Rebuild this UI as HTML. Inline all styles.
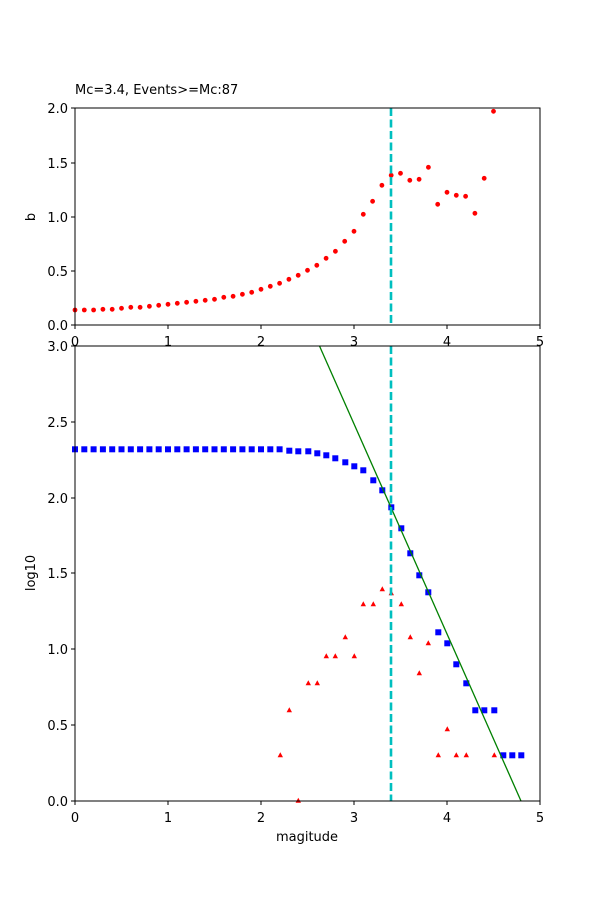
<!DOCTYPE html>
<html><head><meta charset="utf-8"><style>
html,body{margin:0;padding:0;background:#fff;}
svg{display:block;font-family:"DejaVu Sans","Liberation Sans",sans-serif;}
</style></head><body>
<svg id="s" width="600" height="900" viewBox="0 0 600 900" xmlns="http://www.w3.org/2000/svg">
<rect width="600" height="900" fill="#fff"/>
<g id="pts"></g>
<line x1="319.5" y1="346" x2="521" y2="801" stroke="#008000" stroke-width="1.3"/>
<line x1="391" y1="108" x2="391" y2="325" stroke="#00bfbf" stroke-width="2.6" stroke-dasharray="8,3.5"/>
<line x1="391" y1="346" x2="391" y2="801" stroke="#00bfbf" stroke-width="2.6" stroke-dasharray="8,3.5"/>
<rect x="75" y="108" width="465" height="217" fill="none" stroke="#000" stroke-width="1"/>
<rect x="75" y="346" width="465" height="455" fill="none" stroke="#000" stroke-width="1"/>
<g stroke="#000" stroke-width="1">
<line x1="75" y1="325" x2="75" y2="329"/><line x1="168" y1="325" x2="168" y2="329"/><line x1="261" y1="325" x2="261" y2="329"/><line x1="354" y1="325" x2="354" y2="329"/><line x1="447" y1="325" x2="447" y2="329"/><line x1="540" y1="325" x2="540" y2="329"/>
<line x1="71" y1="325" x2="75" y2="325"/><line x1="71" y1="271" x2="75" y2="271"/><line x1="71" y1="217" x2="75" y2="217"/><line x1="71" y1="163" x2="75" y2="163"/><line x1="71" y1="108" x2="75" y2="108"/>
<line x1="75" y1="801" x2="75" y2="805"/><line x1="168" y1="801" x2="168" y2="805"/><line x1="261" y1="801" x2="261" y2="805"/><line x1="354" y1="801" x2="354" y2="805"/><line x1="447" y1="801" x2="447" y2="805"/><line x1="540" y1="801" x2="540" y2="805"/>
<line x1="71" y1="801" x2="75" y2="801"/><line x1="71" y1="725" x2="75" y2="725"/><line x1="71" y1="649" x2="75" y2="649"/><line x1="71" y1="573" x2="75" y2="573"/><line x1="71" y1="498" x2="75" y2="498"/><line x1="71" y1="422" x2="75" y2="422"/><line x1="71" y1="346" x2="75" y2="346"/>
</g>
<g font-size="13" fill="#000">
<text x="75" y="94">Mc=3.4, Events&gt;=Mc:87</text>
<g text-anchor="middle">
<text x="75" y="346">0</text><text x="168" y="346">1</text><text x="261" y="346">2</text><text x="354" y="346">3</text><text x="447" y="346">4</text><text x="540" y="346">5</text>
<text x="75" y="822">0</text><text x="168" y="822">1</text><text x="261" y="822">2</text><text x="354" y="822">3</text><text x="447" y="822">4</text><text x="540" y="822">5</text>
<text x="307" y="841">magitude</text>
</g>
<g text-anchor="end">
<text x="68" y="330">0.0</text><text x="68" y="276">0.5</text><text x="68" y="222">1.0</text><text x="68" y="168">1.5</text><text x="68" y="113">2.0</text>
<text x="68" y="806">0.0</text><text x="68" y="730">0.5</text><text x="68" y="654">1.0</text><text x="68" y="578">1.5</text><text x="68" y="503">2.0</text><text x="68" y="427">2.5</text><text x="68" y="351">3.0</text>
</g>
<text transform="translate(35,217) rotate(-90)" text-anchor="middle">b</text>
<text transform="translate(35,573) rotate(-90)" text-anchor="middle">log10</text>
</g>
</svg>
<script>
(function(){
var NS="http://www.w3.org/2000/svg";
var g=document.getElementById('pts');
function el(n,a){var e=document.createElementNS(NS,n);for(var k in a)e.setAttribute(k,a[k]);g.appendChild(e);}
var bvals=[310,310,310,309.3,309.3,308.3,307.3,307.3,306.3,305.3,304.3,303.3,302.3,301.3,300.3,299.3,297.3,296.3,294.3,292.3,289.3,286.3,283.3,279.3,275.3,270.3,265.3,258.3,251.3,241.3,231.3,214.3,201.3,185.3,175.3,173.3,180.3,179.3,167.3,204.3,192.3,195.3,196.3,213.3,178.3,111.3];
bvals.forEach(function(y,i){el('circle',{cx:75+9.3*i,cy:y,r:2.4,fill:'#ff0000'});});
var tri=[[280.3,755.3],[289.3,710.3],[298.3,800.7],[308.3,683.3],[317.3,683.3],[326.3,656.3],[335.3,656.3],[345.3,637.3],[354.3,656.3],[363.3,604.3],[373.3,604.3],[382.3,589.3],[391.3,593.3],[401.3,604.3],[410.3,637.3],[419.3,673.3],[428.3,643.3],[438.3,755.3],[447.3,729.3],[456.3,755.3],[466.3,755.3],[494.3,755.3]];
tri.forEach(function(p){var x=p[0],y=p[1];el('polygon',{points:x+','+(y-3)+' '+(x-2.7)+','+(y+2)+' '+(x+2.7)+','+(y+2),fill:'#ff0000'});});
var blue=[];for(var i=0;i<23;i++)blue.push([75+9.3*i,449.3]);
blue=blue.concat([[289.3,450.7],[298.3,451.3],[308.3,451.3],[317.3,453.3],[326.3,455.3],[335.3,458.3],[345.3,462.3],[354.3,466.3],[363.3,470.3],[373.3,480.3],[382.3,490.3],[391.3,507.3],[401.3,528.3],[410.3,553.3],[419.3,575.3],[428.3,592.3],[438.3,632.3],[447.3,643.3],[456.3,664.3],[466.3,683.3],[475.3,710.3],[484.3,710.3],[494.3,710.3],[503.3,755.3],[512.3,755.3],[521.3,755.3]]);
blue.forEach(function(p){el('rect',{x:p[0]-3,y:p[1]-3,width:6,height:6,fill:'#0000ff'});});
})();
</script>
</body></html>
